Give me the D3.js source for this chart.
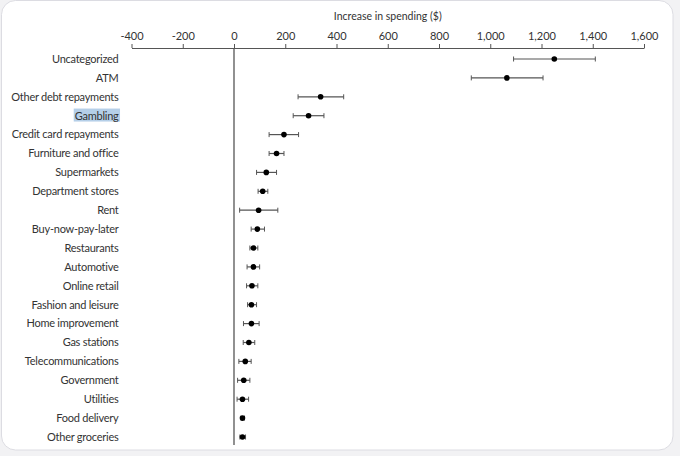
<!DOCTYPE html>
<html>
<head>
<meta charset="utf-8">
<script src="https://cdn.jsdelivr.net/npm/d3@7"></script>
<style>
  html, body { margin: 0; padding: 0; background: #f2f2f4; }
  svg { display: block; }
  text { font-family: Lato, "Open Sans", sans-serif; fill: #333; }
</style>
</head>
<body>
<svg id="chart" width="680" height="456"></svg>
<script>
// categories, top to bottom
const categories = [
  "Uncategorized", "ATM", "Other debt repayments", "Gambling",
  "Credit card repayments", "Furniture and office", "Supermarkets",
  "Department stores", "Rent", "Buy-now-pay-later", "Restaurants",
  "Automotive", "Online retail", "Fashion and leisure", "Home improvement",
  "Gas stations", "Telecommunications", "Government", "Utilities",
  "Food delivery", "Other groceries"
];

// point estimates and 95% interval bounds ($)
const estimate = [1250, 1065, 338, 291, 195, 166, 126, 112, 96, 91, 76,
  76, 70, 68, 68, 58, 44, 38, 33, 33, 33];
const lower = [1091, 926, 250, 231, 137, 137, 88, 94, 22, 67, 62,
  51, 49, 53, 37, 36, 19, 14, 12, 27, 23];
const upper = [1410, 1206, 428, 351, 252, 195, 166, 132, 171, 119, 93,
  100, 93, 88, 98, 81, 67, 62, 57, 41, 45];

const tickValues = [-400, -200, 0, 200, 400, 600, 800, 1000, 1200, 1400, 1600];
const tickLabels = ["-400", "-200", "0", "200", "400", "600", "800",
  "1,000", "1,200", "1,400", "1,600"];

const highlighted = "Gambling";

const svg = d3.select("#chart");

// card background
svg.append("rect")
  .attr("x", 1.5).attr("y", 0.5)
  .attr("width", 671.5).attr("height", 449.5)
  .attr("rx", 14)
  .attr("fill", "#fff")
  .attr("stroke", "#dcdce2");

const x = d3.scaleLinear().domain([-400, 1600]).range([131.5, 644]);
const y = d3.scalePoint().domain(categories).range([59, 437]);

const axisY = 48;

const axis = svg.append("g")
  .attr("transform", `translate(0,${axisY})`)
  .call(d3.axisTop(x)
    .tickValues(tickValues)
    .tickFormat((d, i) => tickLabels[i])
    .tickSize(4)
    .tickSizeOuter(0)
    .tickPadding(4));
axis.selectAll("path, line").attr("stroke", "#555");
axis.selectAll("text")
  .style("font-family", "Lato, 'Open Sans', sans-serif")
  .style("font-size", "11px")
  .attr("fill", "#333");

svg.append("text")
  .attr("x", x(600))
  .attr("y", 20)
  .attr("text-anchor", "middle")
  .style("font-size", "10.5px")
  .text("Increase in spending ($)");

// zero line
svg.append("line")
  .attr("x1", x(0)).attr("x2", x(0))
  .attr("y1", axisY).attr("y2", 445)
  .attr("stroke", "#555").attr("stroke-width", 1.3);

// category labels
const labels = svg.append("g");
labels.selectAll("text")
  .data(categories)
  .join("text")
  .attr("x", 118.5)
  .attr("y", d => y(d))
  .attr("dy", "0.35em")
  .attr("text-anchor", "end")
  .style("font-size", "11px")
  .style("letter-spacing", "-0.25px")
  .text(d => d);

// selection highlight behind one label
labels.selectAll("text").filter(d => d === highlighted).each(function () {
  const b = this.getBBox();
  labels.insert("rect", ":first-child")
    .attr("x", b.x - 1).attr("y", b.y)
    .attr("width", b.width + 2).attr("height", b.height)
    .attr("fill", "#b5cfe8");
});

const rows = categories.map((c, i) => ({
  name: c, est: estimate[i], lo: lower[i], hi: upper[i]
}));

const marks = svg.append("g");

marks.selectAll("line.bar")
  .data(rows)
  .join("line")
  .attr("class", "bar")
  .attr("x1", d => x(d.lo)).attr("x2", d => x(d.hi))
  .attr("y1", d => y(d.name)).attr("y2", d => y(d.name))
  .attr("stroke", "#555").attr("stroke-width", 1.2);

marks.selectAll("line.caplo")
  .data(rows)
  .join("line")
  .attr("class", "caplo")
  .attr("x1", d => x(d.lo)).attr("x2", d => x(d.lo))
  .attr("y1", d => y(d.name) - 2.5).attr("y2", d => y(d.name) + 2.5)
  .attr("stroke", "#555");

marks.selectAll("line.caphi")
  .data(rows)
  .join("line")
  .attr("class", "caphi")
  .attr("x1", d => x(d.hi)).attr("x2", d => x(d.hi))
  .attr("y1", d => y(d.name) - 2.5).attr("y2", d => y(d.name) + 2.5)
  .attr("stroke", "#555");

marks.selectAll("circle")
  .data(rows)
  .join("circle")
  .attr("cx", d => x(d.est))
  .attr("cy", d => y(d.name))
  .attr("r", 2.8)
  .attr("fill", "#000");
</script>
</body>
</html>
